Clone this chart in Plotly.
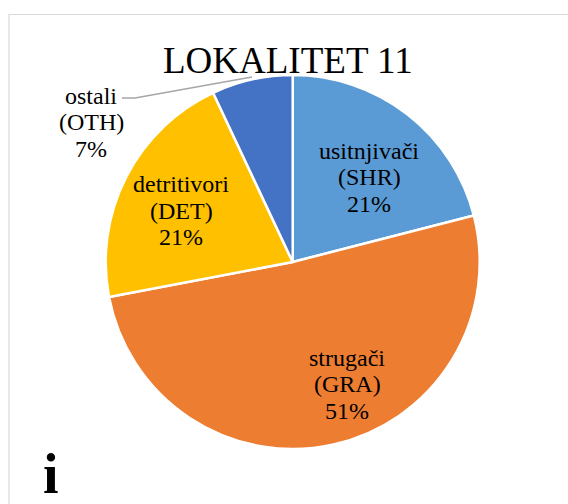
import plotly.graph_objects as go

names = ["usitnjivači", "strugači", "detritivori", "ostali"]
codes = ["SHR", "GRA", "DET", "OTH"]
values = [21, 51, 21, 7]
colors = ["#5B9BD5", "#ED7D31", "#FFC000", "#4472C4"]
title_text = "LOKALITET 11"
panel_letter = "i"

# layout (pixel positions of label centres, as in the reference)
label_pos = [(369, 177), (347, 384), (181, 210.5), (91, 122)]
LINE = 26.5
W, H = 568, 504
cx, cy, r = 292.7, 262, 187
FONT = "Liberation Serif, Times New Roman, serif"

fig = go.Figure(go.Pie(
    values=values,
    labels=[f"{n} ({c})" for n, c in zip(names, codes)],
    textinfo="none",
    sort=False,
    direction="clockwise",
    rotation=0,
    marker=dict(colors=colors, line=dict(color="white", width=2.5)),
    domain=dict(x=[(cx - r) / W, (cx + r) / W], y=[1 - (cy + r) / H, 1 - (cy - r) / H]),
    showlegend=False,
    hoverinfo="skip",
))

for (px, py), n, c, v in zip(label_pos, names, codes, values):
    for k, line in enumerate([n, f"({c})", f"{v}%"]):
        fig.add_annotation(x=px / W, y=1 - (py + (k - 1) * LINE) / H,
                           xref="paper", yref="paper", xanchor="center", yanchor="middle",
                           text=line, showarrow=False,
                           font=dict(family=FONT, size=24, color="black"))

fig.add_shape(type="path", xref="paper", yref="paper",
              path=f"M {122/W} {1-98/H} L {135/W} {1-98/H} L {252/W} {1-77/H}",
              line=dict(color="#A6A6A6", width=1.5))

fig.add_shape(type="rect", xref="paper", yref="paper",
              x0=9 / W, x1=1.02, y0=-0.02, y1=1 - 14.5 / H,
              line=dict(color="#D9D9D9", width=1.2), layer="below")

fig.add_annotation(x=288 / W, y=1 - 60.5 / H, xref="paper", yref="paper",
                   xanchor="center", yanchor="middle",
                   text=title_text, showarrow=False,
                   font=dict(family=FONT, size=37, color="black"))
fig.add_annotation(x=51 / W, y=1 - 474 / H, xref="paper", yref="paper",
                   xanchor="center", yanchor="middle",
                   text=f"<b>{panel_letter}</b>", showarrow=False,
                   font=dict(family=FONT, size=56, color="black"))

fig.update_layout(width=W, height=H, margin=dict(l=0, r=0, t=0, b=0),
                  paper_bgcolor="white", plot_bgcolor="white")
fig.write_html("out.html", config={"displayModeBar": False},
               post_script="document.body.style.margin='0';document.body.style.overflow='hidden';")
